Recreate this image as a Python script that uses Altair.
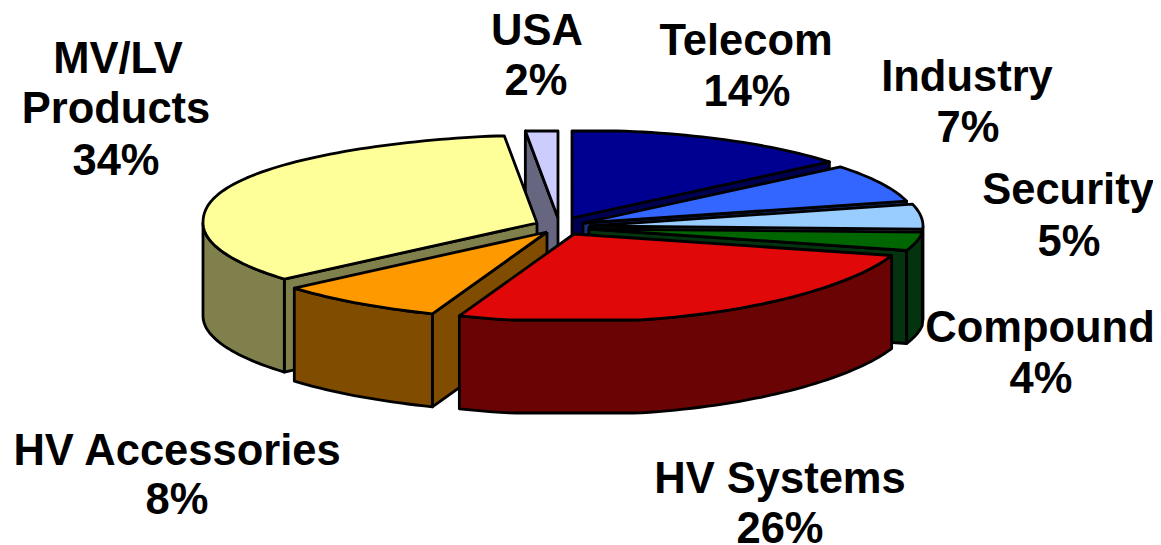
import math
import altair as alt
import pandas as pd

# ---- chart values ----
categories = ["Telecom", "Industry", "Security", "Compound", "HV Systems", "HV Accessories", "MV/LV Products", "USA"]
shares = [14, 7, 5, 4, 26, 8, 34, 2]
top_colors = ["#000090", "#3366ff", "#99ccff", "#006600", "#e00808", "#ff9900", "#ffff99", "#ccccff"]
side_colors = ["#000050", "#1a3380", "#4d6680", "#03330f", "#6a0404", "#804d00", "#80804d", "#666680"]

# ---- layout (pixels of the picture) ----
apex = {
    "Telecom": (572, 218), "Industry": (583, 223), "Security": (589, 226), "Compound": (589, 229),
    "HV Systems": (574, 234), "HV Accessories": (547, 232), "MV/LV Products": (537, 223), "USA": (558, 218),
}
RX, RY, DEPTH = 334, 88, 93
paint_order = ["Telecom", "Industry", "Security", "Compound", "USA", "MV/LV Products", "HV Accessories", "HV Systems"]
label_layout = {
    "Telecom": [("Telecom", 746, 55), ("%", 747, 106)],
    "Industry": [("Industry", 967, 91), ("%", 968, 142)],
    "Security": [("Security", 1068, 204), ("%", 1069, 256)],
    "Compound": [("Compound", 1040, 342), ("%", 1041, 393)],
    "HV Systems": [("HV Systems", 780, 493), ("%", 780, 543)],
    "HV Accessories": [("HV Accessories", 177, 465), ("%", 177, 514)],
    "MV/LV Products": [("MV/LV", 118, 73), ("Products", 116, 123), ("%", 116, 175)],
    "USA": [("USA", 537, 45), ("%", 536, 95)],
}


def rim(name, deg, drop=0):
    """Point on a slice's tilted rim at a clockwise angle from twelve o'clock."""
    t = math.radians(deg)
    s, c = math.sin(t), math.cos(t)
    ax, ay = apex[name]
    if s >= 0:
        x = RX * s
    else:
        x = -RX * abs(s) ** (1.07 + 0.05 * max(0.0, c))
    if s > 0 and c < 0:
        y = RY * abs(c) ** 1.2
    elif s < 0 and c > 0:
        y = -RY * c ** 0.9
    else:
        y = -RY * c
    y = max(min(y, RY - 2), -(RY - 1))
    return ax + x, ay + y + drop


def arc(name, a, b, drop=0):
    n = max(2, int(abs(b - a) / 1.5) + 1)
    return [rim(name, a + (b - a) * i / (n - 1), drop) for i in range(n)]


rows = []
poly_id = [0]


def add(points, fill):
    pid = f"p{poly_id[0]:03d}"
    poly_id[0] += 1
    for i, (x, y) in enumerate(points + points[:1]):
        rows.append({"poly": pid, "i": i, "x": x, "y": y, "fill": fill})


edges = {}
cum = 0
for name, share in zip(categories, shares):
    edges[name] = (cum * 3.6, (cum + share) * 3.6)
    cum += share

top = dict(zip(categories, top_colors))
side = dict(zip(categories, side_colors))

for name in paint_order:
    a, b = edges[name]
    ax, ay = apex[name]
    apex_top, apex_low = (ax, ay), (ax, ay + DEPTH)
    if math.sin(math.radians(a)) < 0:
        p = rim(name, a)
        add([apex_top, p, (p[0], p[1] + DEPTH), apex_low], side[name])
    if math.sin(math.radians(b)) > 0:
        p = rim(name, b)
        add([apex_top, p, (p[0], p[1] + DEPTH), apex_low], side[name])
    lo, hi = max(a, 90), min(b, 270)
    if lo < hi:
        add(arc(name, lo, hi) + arc(name, hi, lo, DEPTH), side[name])
    add([apex_top] + arc(name, a, b), top[name])

polys = pd.DataFrame(rows)

text_rows = []
share_of = dict(zip(categories, shares))
for name, lines in label_layout.items():
    for txt, x, y in lines:
        text_rows.append({"label": f"{share_of[name]}%" if txt == "%" else txt, "x": x, "y": y})
labels = pd.DataFrame(text_rows)

X = alt.X("x:Q", scale=alt.Scale(domain=[8, 1153], nice=False, zero=False), axis=None)
Y = alt.Y("y:Q", scale=alt.Scale(domain=[545, 8], nice=False, zero=False), axis=None)

pie = alt.Chart(polys).mark_line(
    stroke="#000000", strokeWidth=2.8, strokeJoin="round", clip=False
).encode(
    x=X, y=Y, order="i:Q", detail="poly:N", fill=alt.Fill("fill:N", scale=None, legend=None)
)

text = alt.Chart(labels).mark_text(
    font="Liberation Sans", fontWeight="bold", fontSize=43.5, align="center", baseline="alphabetic", color="#000000", clip=False
).encode(x=X, y=Y, text="label:N")

chart = (pie + text).properties(
    width=1145, height=537, padding=0, autosize=alt.AutoSizeParams(type="none"), background="#ffffff"
).configure_view(stroke=None)

chart.save("out.html", embed_options={"renderer": "svg", "actions": False})
